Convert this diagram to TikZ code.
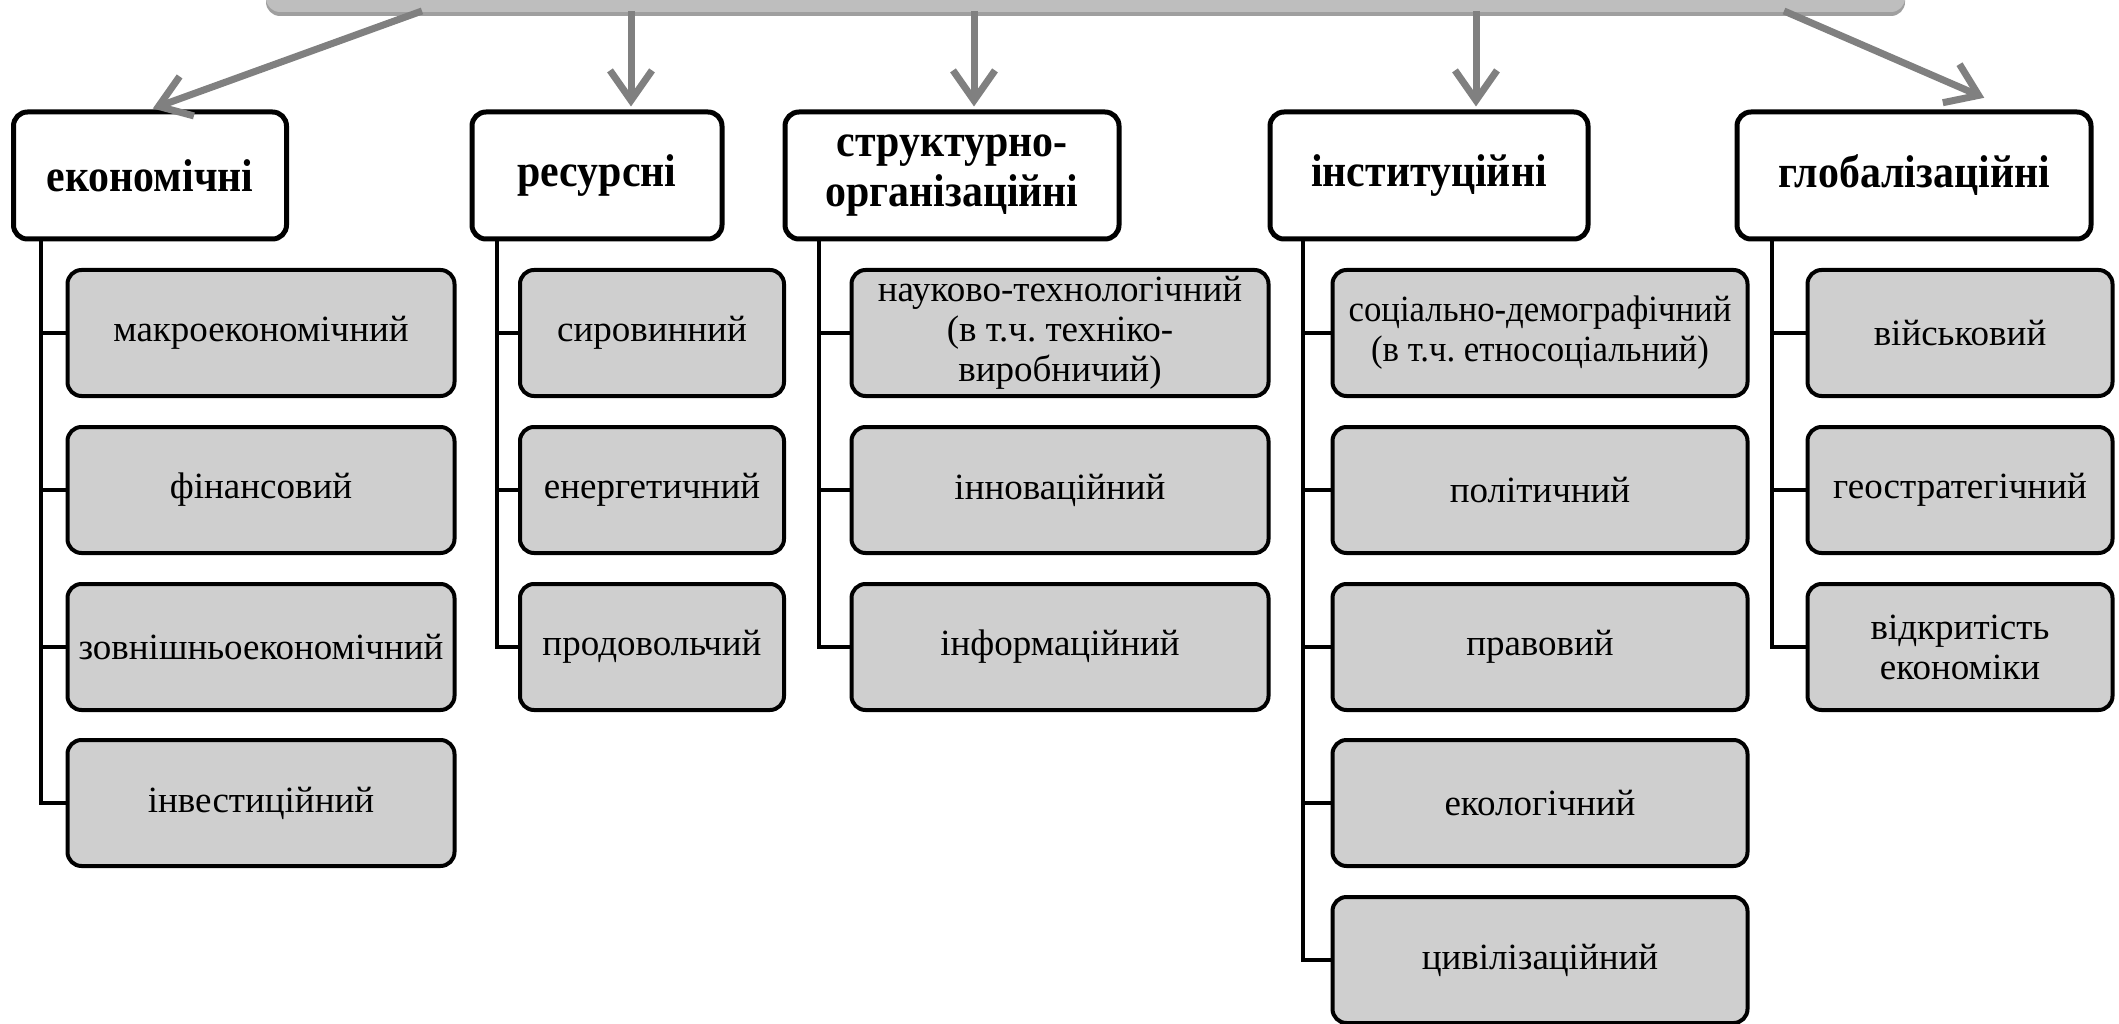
\documentclass[tikz,border=0pt]{standalone}
\usepackage{fontspec}
\setmainfont{Liberation Serif}
\newfontfamily\headfont[FakeStretch=0.91]{Liberation Serif}
\newfontfamily\narrowfont[FakeStretch=0.94]{Liberation Serif}
\usetikzlibrary{arrows.meta,shadows}
\frenchspacing

\definecolor{itemgray}{HTML}{CFCFCF}
\definecolor{bargray}{HTML}{BEBEBE}
\definecolor{arrgray}{HTML}{808080}

\tikzset{
  head/.style={draw, line width=5pt, rounded corners=14pt, fill=white,
    minimum height=127pt, align=center, inner sep=0pt,
    font=\headfont\fontsize{46}{50}\selectfont\bfseries},
  item/.style={draw, line width=4pt, rounded corners=14pt, fill=itemgray,
    minimum height=126pt, align=center, inner sep=0pt,
    font=\fontsize{37}{40}\selectfont},
  link/.style={line width=4pt},
  arr/.style={draw=arrgray, line width=7pt, shorten >=3pt,
    -{Straight Barb[length=30pt,width=42pt]}},
}

\begin{document}
\begin{tikzpicture}[x=1pt, y=-1pt]
\useasboundingbox (0,0) rectangle (2119,1024);

% Top bar (cut off at the top edge)
\node[fill=bargray, rounded corners=14pt, minimum width=1639pt, minimum height=44pt,
  drop shadow={shadow xshift=0pt, shadow yshift=-4pt, fill=gray!75, opacity=1}]
  (top) at (1085.5,-10) {};

% Headings
\node[head, minimum width=273pt] (eco) at (150,175.5) {економічні};
\node[head, minimum width=250pt] (res) at (597,175.5) {ресурсні};
\node[head, minimum width=334pt] (str) at (952,175.5) {структурно-\\організаційні};
\node[head, minimum width=318pt] (ins) at (1429,175.5) {інституційні};
\node[head, minimum width=354pt] (glo) at (1914,175.5) {глобалізаційні};

% Arrows from the top bar
\draw[arr] (422,11) -- (eco.north);
\draw[arr] (631,11) -- (631,0 |- res.north);
\draw[arr] (974,11) -- (974,0 |- str.north);
\draw[arr] (1476,11) -- (1476,0 |- ins.north);
\coordinate (gloend) at (1987,99);
\draw[arr] (1784,11) -- (gloend);

% economic column
\node[item, minimum width=387pt] (eco1) at (261,333) {макроекономічний};
\node[item, minimum width=387pt] (eco2) at (261,490) {фінансовий};
\node[item, minimum width=387pt] (eco3) at (261,647) {зовнішньоекономічний};
\node[item, minimum width=387pt] (eco4) at (261,803) {інвестиційний};
\draw[link] (40.5,0 |- eco.south) -- (40.5,0 |- eco4.west) -- (eco4.west);
\draw[link] (40.5,0 |- eco1.west) -- (eco1.west);
\draw[link] (40.5,0 |- eco2.west) -- (eco2.west);
\draw[link] (40.5,0 |- eco3.west) -- (eco3.west);

% resource column
\node[item, minimum width=264pt] (res1) at (652,333) {сировинний};
\node[item, minimum width=264pt] (res2) at (652,490) {енергетичний};
\node[item, minimum width=264pt] (res3) at (652,647) {продовольчий};
\draw[link] (497,0 |- res.south) -- (497,0 |- res3.west) -- (res3.west);
\draw[link] (497,0 |- res1.west) -- (res1.west);
\draw[link] (497,0 |- res2.west) -- (res2.west);

% structural column
\node[item, minimum width=417pt] (str1) at (1060,333) {науково-технологічний\\(в т.ч. техніко-\\виробничий)};
\node[item, minimum width=417pt] (str2) at (1060,490) {інноваційний};
\node[item, minimum width=417pt] (str3) at (1060,647) {інформаційний};
\draw[link] (819,0 |- str.south) -- (819,0 |- str3.west) -- (str3.west);
\draw[link] (819,0 |- str1.west) -- (str1.west);
\draw[link] (819,0 |- str2.west) -- (str2.west);

% institutional column
\node[item, minimum width=415pt, font=\narrowfont\fontsize{37}{40}\selectfont] (ins1) at (1540,333) {соціально-демографічний\\(в т.ч. етносоціальний)};
\node[item, minimum width=415pt] (ins2) at (1540,490) {політичний};
\node[item, minimum width=415pt] (ins3) at (1540,647) {правовий};
\node[item, minimum width=415pt] (ins4) at (1540,803) {екологічний};
\node[item, minimum width=415pt] (ins5) at (1540,960) {цивілізаційний};
\draw[link] (1303,0 |- ins.south) -- (1303,0 |- ins5.west) -- (ins5.west);
\draw[link] (1303,0 |- ins1.west) -- (ins1.west);
\draw[link] (1303,0 |- ins2.west) -- (ins2.west);
\draw[link] (1303,0 |- ins3.west) -- (ins3.west);
\draw[link] (1303,0 |- ins4.west) -- (ins4.west);

% globalisation column
\node[item, minimum width=305pt] (glo1) at (1960,333) {військовий};
\node[item, minimum width=305pt] (glo2) at (1960,490) {геостратегічний};
\node[item, minimum width=305pt] (glo3) at (1960,647) {відкритість\\економіки};
\draw[link] (1772,0 |- glo.south) -- (1772,0 |- glo3.west) -- (glo3.west);
\draw[link] (1772,0 |- glo1.west) -- (glo1.west);
\draw[link] (1772,0 |- glo2.west) -- (glo2.west);
\end{tikzpicture}
\end{document}
